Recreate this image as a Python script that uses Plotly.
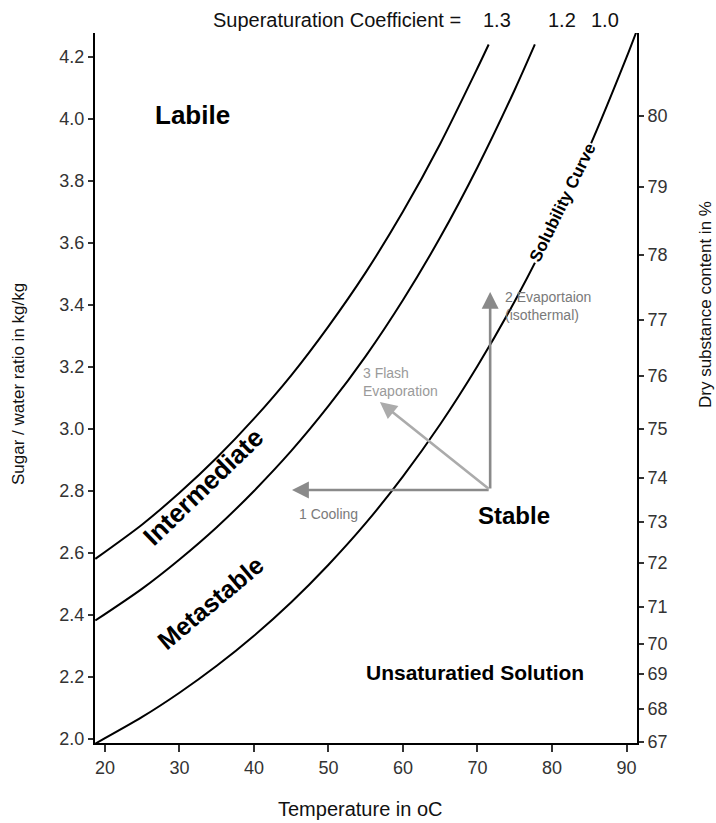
import plotly.graph_objects as go

# ---- data ----
temperature = [18.7, 25, 30, 35, 40, 45, 50, 55, 60, 65, 70, 75, 80, 85, 90, 91.3]
solubility_10 = [1.985, 2.071, 2.149, 2.236, 2.333, 2.441, 2.562, 2.696, 2.847, 3.015, 3.203, 3.412, 3.646, 3.907, 4.198, 4.279]

temp_12 = [18.7, 25, 30, 35, 40, 45, 50, 55, 60, 65, 70, 75, 77.7]
super_12 = [2.382, 2.485, 2.579, 2.683, 2.800, 2.929, 3.074, 3.235, 3.416, 3.618, 3.844, 4.094, 4.24]

temp_13 = [18.7, 25, 30, 35, 40, 45, 50, 55, 60, 65, 70, 71.5]
super_13 = [2.581, 2.692, 2.794, 2.907, 3.033, 3.173, 3.331, 3.505, 3.701, 3.920, 4.164, 4.24]

x_ticks = [20, 30, 40, 50, 60, 70, 80, 90]
y_ticks = [2.0, 2.2, 2.4, 2.6, 2.8, 3.0, 3.2, 3.4, 3.6, 3.8, 4.0, 4.2]
ds_labels = ["67", "68", "69", "70", "71", "72", "73", "74", "75", "76", "77", "78", "79", "80"]
ds_positions = [1.990, 2.097, 2.210, 2.306, 2.426, 2.568, 2.700, 2.842, 3.000, 3.171, 3.352, 3.561, 3.781, 4.010]

start_point = (71.7, 2.803)
cooling_end = (45.1, 2.803)
evap_end = (71.7, 3.442)
flash_end = (56.9, 3.087)

X_RANGE = [18.66, 91.41]
Y_RANGE = [1.987, 4.277]

FONT = "Liberation Sans, Arial, sans-serif"
NARROW = "Liberation Sans Narrow, Liberation Sans, Arial, sans-serif"

fig = go.Figure()
for xs, ys in [(temperature, solubility_10), (temp_12, super_12), (temp_13, super_13)]:
    fig.add_trace(go.Scatter(x=xs, y=ys, mode="lines", line=dict(color="black", width=2, shape="spline", smoothing=0.8),
                             showlegend=False, hoverinfo="skip"))

# invisible trace for secondary axis
fig.add_trace(go.Scatter(x=[X_RANGE[0]], y=[Y_RANGE[0]], yaxis="y2", mode="markers",
                         marker=dict(opacity=0), showlegend=False, hoverinfo="skip"))

ann = []
def arrow(end, color):
    ann.append(dict(x=end[0], y=end[1], ax=start_point[0], ay=start_point[1], xref="x", yref="y",
                    axref="x", ayref="y", showarrow=True, arrowhead=2, arrowsize=1.3, arrowwidth=2.6,
                    arrowcolor=color, text=""))

arrow(cooling_end, "#8a8a8a")
arrow(evap_end, "#8a8a8a")
arrow(flash_end, "#ababab")

def text(x, y, s, size=14, color="black", bold=False, angle=0, family=FONT, xanchor="center",
         align="center", bgcolor=None):
    if bold:
        s = "<b>" + s + "</b>"
    d = dict(x=x, y=y, xref="paper", yref="paper", text=s, showarrow=False, textangle=angle,
             font=dict(size=size, color=color, family=family), xanchor=xanchor, yanchor="middle", align=align)
    if bgcolor:
        d["bgcolor"] = bgcolor
    ann.append(d)

# pixel helpers (plot area l=95, t=33, w=542, h=710)
def px(xp):
    return (xp - 95) / 542.0
def py(yp):
    return (743 - yp) / 710.0

text(px(337), py(20), "Superaturation Coefficient =", size=20, family=NARROW, color="#111")
text(px(497), py(20), "1.3", size=20, family=NARROW, color="#111")
text(px(562), py(20), "1.2", size=20, family=NARROW, color="#111")
text(px(605), py(20), "1.0", size=20, family=NARROW, color="#111")

text(px(192), py(115), "Labile", size=26, bold=True)
text(px(203), py(487), "Intermediate", size=26, bold=True, angle=-44)
text(px(210), py(603), "Metastable", size=25, bold=True, angle=-40)
text(px(514), py(515), "Stable", size=24, bold=True)
text(px(475), py(672), "Unsaturatied Solution", size=21, bold=True)
text(px(562), py(203), "Solubility Curve", size=17, bold=True, angle=-64, bgcolor="white")

text(px(328), py(514), "1 Cooling", size=14, color="#7a7a7a")
text(px(503), py(306), "2 Evaportaion<br>(isothermal)", size=14, color="#7a7a7a", xanchor="left", align="left")
text(px(361), py(382), "3 Flash<br>Evaporation", size=14, color="#9a9a9a", xanchor="left", align="left")

text(px(18), py(384), "Sugar / water ratio in kg/kg", size=17, family=NARROW, angle=-90, color="#111")
text(px(705), py(305), "Dry substance content in %", size=17, family=NARROW, angle=-90, color="#111")
text(px(360), py(809), "Temperature in oC", size=20, family=NARROW, color="#111")

tickfont = dict(size=18, family=FONT, color="#333")
fig.update_layout(
    width=716, height=823,
    margin=dict(l=95, r=79, t=33, b=80),
    paper_bgcolor="white", plot_bgcolor="white",
    annotations=ann,
    xaxis=dict(range=X_RANGE, tickvals=x_ticks, ticks="outside", ticklen=7, tickwidth=1.5,
               tickcolor="#333", showline=True, linecolor="black", linewidth=2, showgrid=False,
               zeroline=False, tickfont=tickfont),
    yaxis=dict(range=Y_RANGE, tickvals=y_ticks, tickformat=".1f", ticks="outside", ticklen=5,
               tickwidth=1.5, tickcolor="#333", showline=True, linecolor="black", linewidth=2,
               showgrid=False, zeroline=False, tickfont=tickfont),
    yaxis2=dict(range=Y_RANGE, overlaying="y", side="right", tickvals=ds_positions, ticktext=ds_labels,
                ticks="outside", ticklen=5, tickwidth=1.5, tickcolor="#333", showline=True,
                linecolor="black", linewidth=2, showgrid=False, zeroline=False, tickfont=tickfont),
)

fig.write_html("out.html", config={"displayModeBar": False},
               post_script="document.body.style.margin='0';document.body.style.overflow='hidden';")
